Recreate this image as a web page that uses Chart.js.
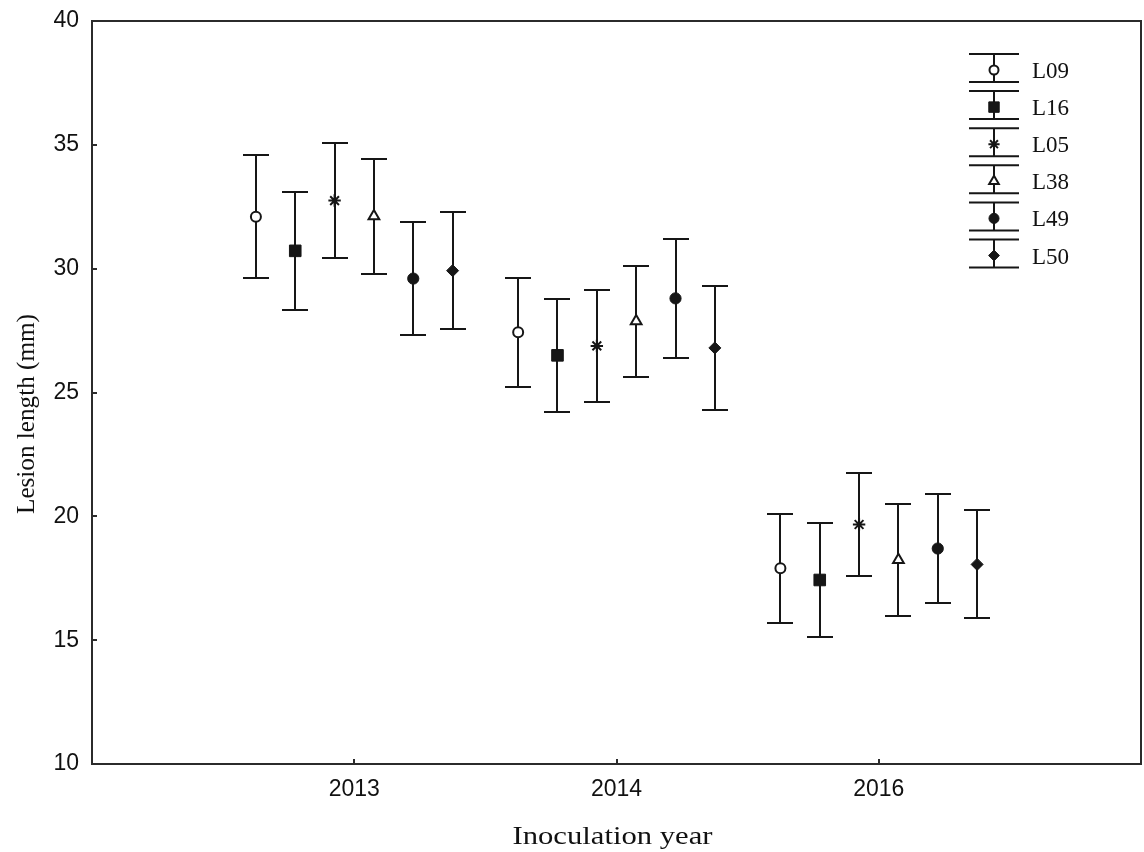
<!DOCTYPE html>
<html>
<head>
<meta charset="utf-8">
<title>Lesion length by inoculation year</title>
<script src="https://cdn.jsdelivr.net/npm/chart.js@4.4.1/dist/chart.umd.min.js"></script>
<style>
  html, body { margin: 0; padding: 0; background: #ffffff; }
  #wrap { width: 1144px; height: 852px; }
</style>
</head>
<body>
<div id="wrap"><canvas id="chart" width="1144" height="852"></canvas></div>
<script>
// Inoculation years (x categories) and isolate lines (series)
const years = ['2013', '2014', '2016'];
const lines = ['L09', 'L16', 'L05', 'L38', 'L49', 'L50'];

// Mean lesion length (mm) per year, one array per line
const meanL09 = [32.10, 27.43, 17.90];
const meanL16 = [30.72, 26.50, 17.43];
const meanL05 = [32.75, 26.88, 19.67];
const meanL38 = [32.12, 27.88, 18.24];
const meanL49 = [29.60, 28.80, 18.70];
const meanL50 = [29.92, 26.80, 18.06];

// Half-width of the error bars (mm)
const errL09 = [2.49, 2.20, 2.20];
const errL16 = [2.38, 2.29, 2.32];
const errL05 = [2.33, 2.27, 2.09];
const errL38 = [2.32, 2.24, 2.25];
const errL49 = [2.28, 2.41, 2.19];
const errL50 = [2.36, 2.49, 2.18];

// Y axis tick labels
const yTicks = [10, 15, 20, 25, 30, 35, 40];

// Axis titles
const xTitle = 'Inoculation year';
const yTitle = 'Lesion length (mm)';

const means = [meanL09, meanL16, meanL05, meanL38, meanL49, meanL50];
const errs = [errL09, errL16, errL05, errL38, errL49, errL50];

const INK = '#161616';
const FRAME = '#2b2b2b';
const SERIF = '"Liberation Serif", "Times New Roman", serif';
const SANS = '"Liberation Sans", Arial, sans-serif';
const groupStep = 0.15;     // x spacing between lines within a year (axis units)
const capHalf = 13;         // half width of error bar caps (px)

// Marker look of each line
const markers = [
  { style: 'circle',   radius: 5.0, fill: '#ffffff', width: 2 },
  { style: 'rect',     radius: 8.2, fill: INK,       width: 1 },
  { style: 'star',     radius: 6.2, fill: INK,       width: 2 },
  { style: 'triangle', radius: 6.2, fill: '#ffffff', width: 2 },
  { style: 'circle',   radius: 5.6, fill: INK,       width: 1 },
  { style: 'rectRot',  radius: 6.0, fill: INK,       width: 1 }
];

const datasets = lines.map((name, k) => ({
  label: name,
  data: years.map((yr, i) => ({ x: i + 1 + (k - 2.5) * groupStep, y: means[k][i] })),
  err: errs[k],
  showLine: false,
  pointStyle: markers[k].style,
  pointRadius: markers[k].radius,
  pointHoverRadius: markers[k].radius,
  pointBackgroundColor: markers[k].fill,
  pointBorderColor: INK,
  pointBorderWidth: markers[k].width,
  backgroundColor: markers[k].fill,
  borderColor: INK
}));

// Small shape painter for the legend glyphs (same geometry as the chart points)
function drawMarker(ctx, m, x, y, scale) {
  const r = m.radius * scale;
  ctx.save();
  ctx.lineWidth = m.width;
  ctx.strokeStyle = INK;
  ctx.fillStyle = m.fill;
  ctx.beginPath();
  if (m.style === 'circle') {
    ctx.arc(x, y, r, 0, Math.PI * 2);
    ctx.fill(); ctx.stroke();
  } else if (m.style === 'rect') {
    const s = Math.SQRT1_2 * r;
    ctx.rect(x - s, y - s, 2 * s, 2 * s);
    ctx.fill(); ctx.stroke();
  } else if (m.style === 'rectRot') {
    ctx.moveTo(x, y - r); ctx.lineTo(x + r, y); ctx.lineTo(x, y + r); ctx.lineTo(x - r, y);
    ctx.closePath(); ctx.fill(); ctx.stroke();
  } else if (m.style === 'triangle') {
    let a = 0;
    ctx.moveTo(x + Math.sin(a) * r, y - Math.cos(a) * r);
    a += Math.PI * 2 / 3; ctx.lineTo(x + Math.sin(a) * r, y - Math.cos(a) * r);
    a += Math.PI * 2 / 3; ctx.lineTo(x + Math.sin(a) * r, y - Math.cos(a) * r);
    ctx.closePath(); ctx.fill(); ctx.stroke();
  } else if (m.style === 'star') {
    for (let j = 0; j < 4; j++) {
      const a = j * Math.PI / 4;
      ctx.moveTo(x + Math.sin(a) * r, y - Math.cos(a) * r);
      ctx.lineTo(x - Math.sin(a) * r, y + Math.cos(a) * r);
    }
    ctx.stroke();
  }
  ctx.restore();
}

// Vertical error bars with caps, drawn beneath the markers
const errorBars = {
  id: 'errorBars',
  beforeDatasetsDraw(chart) {
    const { ctx, scales: { y } } = chart;
    ctx.save();
    ctx.strokeStyle = INK;
    ctx.lineWidth = 2;
    chart.data.datasets.forEach((ds, k) => {
      const meta = chart.getDatasetMeta(k);
      meta.data.forEach((pt, i) => {
        const m = ds.data[i].y, e = ds.err[i];
        const top = Math.round(y.getPixelForValue(m + e));
        const bot = Math.round(y.getPixelForValue(m - e));
        const x = Math.round(pt.x);
        ctx.beginPath();
        ctx.moveTo(x, top); ctx.lineTo(x, bot);
        ctx.moveTo(x - capHalf, top); ctx.lineTo(x + capHalf, top);
        ctx.moveTo(x - capHalf, bot); ctx.lineTo(x + capHalf, bot);
        ctx.stroke();
      });
    });
    ctx.restore();
  }
};

// Box around the plot with short inward tick marks, plus the axis titles
const frame = {
  id: 'frame',
  afterDatasetsDraw(chart) {
    const { ctx, chartArea: a, scales: { x, y } } = chart;
    ctx.save();
    ctx.strokeStyle = FRAME;
    ctx.lineWidth = 2;
    ctx.strokeRect(a.left, a.top, a.right - a.left, a.bottom - a.top);
    ctx.beginPath();
    x.ticks.forEach(t => {
      const px = Math.round(x.getPixelForValue(t.value));
      ctx.moveTo(px, a.bottom); ctx.lineTo(px, a.bottom - 5);
    });
    y.ticks.forEach(t => {
      const py = Math.round(y.getPixelForValue(t.value));
      ctx.moveTo(a.left, py); ctx.lineTo(a.left + 5, py);
    });
    ctx.stroke();

    ctx.fillStyle = '#111111';
    ctx.font = '26px ' + SERIF;
    ctx.textAlign = 'center';
    ctx.textBaseline = 'alphabetic';
    // x title, slightly widened like the rest of the axis lettering
    ctx.save();
    ctx.translate((a.left + a.right) / 2 - 4, 844);
    ctx.scale(200 / ctx.measureText(xTitle).width, 1);
    ctx.fillText(xTitle, 0, 0);
    ctx.restore();
    // y title, rotated
    ctx.save();
    ctx.translate(34, 414);
    ctx.rotate(-Math.PI / 2);
    ctx.scale(200 / ctx.measureText(yTitle).width, 1);
    ctx.fillText(yTitle, 0, 0);
    ctx.restore();
    ctx.restore();
  }
};

// Legend with error-bar glyphs in the upper right of the plot
const barLegend = {
  id: 'barLegend',
  afterDraw(chart) {
    const { ctx } = chart;
    const cx = 994, x0 = 969, x1 = 1019, textX = 1032;
    ctx.save();
    chart.data.datasets.forEach((ds, k) => {
      const cy = 70 + k * 37.1;
      ctx.strokeStyle = INK;
      ctx.lineWidth = 2;
      ctx.beginPath();
      ctx.moveTo(cx, cy - 16); ctx.lineTo(cx, cy + 12);
      ctx.moveTo(x0, cy - 16); ctx.lineTo(x1, cy - 16);
      ctx.moveTo(x0, cy + 12); ctx.lineTo(x1, cy + 12);
      ctx.stroke();
      drawMarker(ctx, markers[k], cx, cy, 0.9);
      ctx.fillStyle = '#111111';
      ctx.font = '23px ' + SERIF;
      ctx.textBaseline = 'alphabetic';
      ctx.textAlign = 'left';
      ctx.fillText(ds.label, textX, cy + 8);
    });
    ctx.restore();
  }
};

new Chart(document.getElementById('chart'), {
  type: 'scatter',
  data: { datasets },
  plugins: [errorBars, frame, barLegend],
  options: {
    responsive: false,
    animation: false,
    devicePixelRatio: 1,
    layout: { autoPadding: false, padding: { top: 21, right: 3, left: 0, bottom: 0 } },
    plugins: { legend: { display: false }, tooltip: { enabled: false } },
    scales: {
      x: {
        type: 'linear',
        min: 0,
        max: years.length + 1,
        afterBuildTicks(scale) { scale.ticks = years.map((yr, i) => ({ value: i + 1 })); },
        afterFit(scale) {
          scale.height = 88;
          scale.paddingLeft = 0; scale.paddingRight = 0;
        },
        grid: { display: false, drawTicks: false },
        border: { display: false },
        ticks: {
          autoSkip: false,
          maxRotation: 0,
          padding: 12,
          color: '#111111',
          font: { family: SANS, size: 23 },
          callback: (v) => years[Math.round(v) - 1] ?? ''
        },
        title: { display: false }
      },
      y: {
        min: yTicks[0],
        max: yTicks[yTicks.length - 1],
        afterBuildTicks(scale) { scale.ticks = yTicks.map(v => ({ value: v })); },
        afterFit(scale) {
          scale.width = 92;
          scale.paddingTop = 0; scale.paddingBottom = 0;
        },
        grid: { display: false, drawTicks: false },
        border: { display: false },
        ticks: {
          padding: 13,
          color: '#111111',
          font: { family: SANS, size: 23 }
        },
        title: { display: false }
      }
    }
  }
});
</script>
</body>
</html>
